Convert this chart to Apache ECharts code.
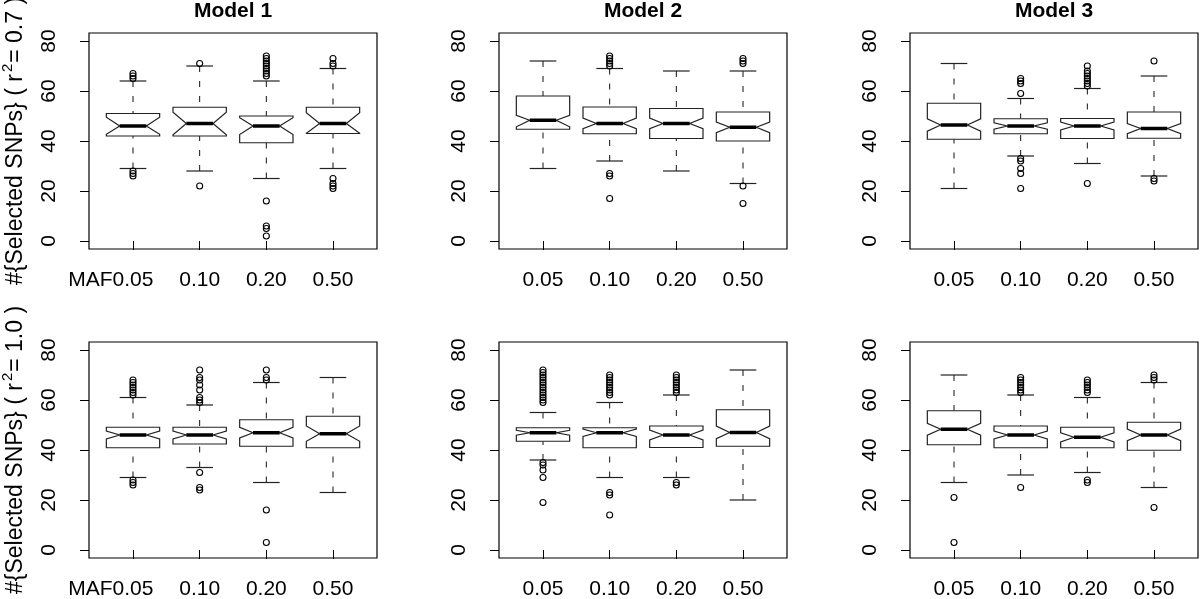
<!DOCTYPE html>
<html><head><meta charset="utf-8">
<script src="https://cdn.jsdelivr.net/npm/echarts@6/dist/echarts.min.js"></script>
<style>html,body{margin:0;padding:0;background:#fff}#c{width:1200px;height:599px}</style>
</head><body><div id="c"></div>
<script>
const categories = ['0.05', '0.10', '0.20', '0.50'];
const firstLabelPrefix = 'MAF';
const modelTitles = ['Model 1', 'Model 2', 'Model 3'];
const rowR2 = ['0.7', '1.0'];
const yTicks = [0, 20, 40, 60, 80];

// each box: [lowWhisker, q1, notchLo, median, notchHi, q3, highWhisker]
const m1_r07_stats = [
  [29, 42.0, 42.7, 46, 49.5, 51.0, 64],
  [28, 42.0, 42.5, 47, 51.5, 53.5, 70],
  [25, 39.3, 42.6, 46, 49.3, 50.0, 64],
  [29, 43.0, 43.1, 47, 51.3, 53.5, 69]
];
const m1_r07_out = [[26, 27, 28, 65, 66, 67], [22, 71], [2, 5, 6, 16, 66, 67, 68, 69, 70, 71, 72, 73, 74], [21, 22, 23, 25, 70, 71, 73]];

const m2_r07_stats = [
  [29, 44.7, 45.7, 48.3, 50.3, 58.0, 72],
  [32, 42.9, 44.9, 47, 49.2, 53.6, 69],
  [28, 41.0, 44.9, 47, 49.2, 53.0, 68],
  [23, 40.0, 43.3, 45.5, 47.6, 51.6, 68]
];
const m2_r07_out = [[], [17, 26, 27, 70, 71, 72, 73, 74], [], [15, 22, 71, 72, 73]];

const m3_r07_stats = [
  [21, 40.7, 43.9, 46.4, 48.9, 55.1, 71],
  [34, 42.9, 44.7, 46, 47.3, 48.9, 57],
  [31, 41.0, 44.4, 46, 47.6, 49.0, 61],
  [26, 41.1, 42.9, 45, 47.0, 51.6, 66]
];
const m3_r07_out = [[], [21, 27, 29, 32, 33, 59, 63, 64, 65], [23, 62, 63, 64, 65, 66, 67, 68, 70], [24, 25, 72]];

const m1_r10_stats = [
  [29, 40.9, 44.4, 46, 47.6, 49.1, 61],
  [33, 42.4, 44.4, 46, 47.6, 49.1, 58],
  [27, 41.5, 44.8, 46.9, 49.1, 52.1, 67],
  [23, 40.9, 43.5, 46.5, 49.6, 53.5, 69]
];
const m1_r10_out = [[26, 27, 28, 62, 63, 64, 65, 66, 67, 68], [24, 25, 31, 59, 60, 61, 64, 66, 68, 69, 72], [3, 16, 68, 69, 72], []];

const m2_r10_stats = [
  [36, 43.5, 45.9, 46.9, 47.9, 48.9, 55],
  [29, 40.9, 45.4, 46.9, 48.4, 48.9, 59],
  [29, 41.0, 44.0, 46, 48.0, 49.6, 62],
  [20, 41.5, 44.5, 47, 49.6, 56.1, 72]
];
const m2_r10_out = [[19, 29, 32, 34, 35, 59, 60, 61, 62, 63, 64, 65, 66, 67, 68, 69, 70, 71, 72], [14, 22, 23, 62, 63, 64, 65, 66, 67, 68, 69, 70], [26, 27, 63, 64, 65, 66, 67, 68, 69, 70], []];

const m3_r10_stats = [
  [27, 42.1, 45.9, 48.3, 50.7, 55.7, 70],
  [30, 40.9, 44.4, 46, 47.6, 49.6, 62],
  [31, 40.9, 43.2, 45.1, 46.9, 49.1, 61],
  [25, 39.9, 43.7, 46, 48.4, 51.1, 67]
];
const m3_r10_out = [[3, 21], [25, 63, 64, 65, 66, 67, 68, 69], [27, 28, 63, 64, 65, 66, 67, 68], [17, 68, 69, 70]];

const panelStats = [m1_r07_stats, m2_r07_stats, m3_r07_stats, m1_r10_stats, m2_r10_stats, m3_r10_stats];
const panelOut = [m1_r07_out, m2_r07_out, m3_r07_out, m1_r10_out, m2_r10_out, m3_r10_out];

const FONT = "'Liberation Sans', Arial, Helvetica, sans-serif";
const colLeft = [89, 499, 910];
const rowTop = [33, 342];
const PW = 288, PH = 216;
const LABEL_FS = 21;

function renderNotchBox(params, api) {
  const x = api.value(0);
  const lw = api.value(1), q1 = api.value(2), nlo = api.value(3), med = api.value(4),
        nhi = api.value(5), q3 = api.value(6), hw = api.value(7);
  const P = (dx, y) => api.coord([x + dx, y]);
  const W = 0.4, N = 0.2, C = 0.2;
  const stroke = '#222';
  const seg = (a, b, style) => ({ type: 'line', shape: { x1: a[0], y1: a[1], x2: b[0], y2: b[1] }, style: style });
  const dash = { stroke: '#111', lineWidth: 1, lineDash: [6, 9] };
  const solid = { stroke: stroke, lineWidth: 1.2 };
  return {
    type: 'group',
    children: [
      seg(P(0, hw), P(0, q3), dash),
      seg(P(0, lw), P(0, q1), dash),
      seg(P(-C, hw), P(C, hw), solid),
      seg(P(-C, lw), P(C, lw), solid),
      {
        type: 'polygon',
        shape: { points: [P(-W, q1), P(W, q1), P(W, nlo), P(N, med), P(W, nhi), P(W, q3), P(-W, q3), P(-W, nhi), P(-N, med), P(-W, nlo)] },
        style: { fill: '#fff', stroke: stroke, lineWidth: 1.2 }
      },
      seg(P(-N, med), P(N, med), { stroke: '#000', lineWidth: 3.5 })
    ]
  };
}

// measure half width of first category label, to place the prefix right before it
const mctx = document.createElement('canvas').getContext('2d');
mctx.font = LABEL_FS + 'px ' + FONT;
const halfFirst = mctx.measureText(categories[0]).width / 2;

const grids = [], xAxes = [], yAxes = [], series = [], titles = [], extraX = [];
for (let p = 0; p < 6; p++) {
  const r = Math.floor(p / 3), c = p % 3;
  grids.push({ left: colLeft[c], top: rowTop[r], width: PW, height: PH, show: true, borderColor: '#000', borderWidth: 1.2, backgroundColor: 'transparent', containLabel: false, outerBoundsMode: 'none' });
  const firstCol = c === 0;
  xAxes.push({
    type: 'value', gridIndex: p, min: 0.34, max: 4.66,
    axisLine: { show: false }, splitLine: { show: false },
    axisTick: { show: true, customValues: [1, 2, 3, 4], length: 9, lineStyle: { color: '#000', width: 1 } },
    axisLabel: {
      customValues: [1, 2, 3, 4], margin: 21, fontSize: LABEL_FS, color: '#000', fontFamily: FONT,
      showMinLabel: true, showMaxLabel: true,
      formatter: function (v) { return categories[Math.round(v) - 1]; }
    }
  });
  if (firstCol) {
    extraX.push({
      type: 'value', gridIndex: p, min: 0.34, max: 4.66, position: 'bottom',
      axisLine: { show: false }, splitLine: { show: false }, axisTick: { show: false },
      axisLabel: {
        customValues: [1], margin: 21, fontSize: LABEL_FS, color: '#000', fontFamily: FONT,
        align: 'right', padding: [0, halfFirst, 0, 0], showMinLabel: true,
        formatter: function () { return firstLabelPrefix; }
      }
    });
  }
  const yA = {
    type: 'value', gridIndex: p, min: -3.2, max: 83.2,
    axisLine: { show: false }, splitLine: { show: false },
    axisTick: { show: true, customValues: yTicks, length: 9, lineStyle: { color: '#000', width: 1 } },
    axisLabel: { customValues: yTicks, rotate: 90, margin: 29, fontSize: LABEL_FS, color: '#000', fontFamily: FONT, showMinLabel: true, showMaxLabel: true }
  };
  if (firstCol) {
    yA.name = '#{Selected SNPs} ( r{s|2}= ' + rowR2[r] + ' )';
    yA.nameLocation = 'middle';
    yA.nameRotate = 90;
    yA.nameGap = 58;
    yA.nameTextStyle = {
      fontSize: 23, color: '#000', fontFamily: FONT,
      rich: { s: { fontSize: 15, color: '#000', fontFamily: FONT, padding: [0, 1, 16, 2] } }
    };
  }
  yAxes.push(yA);

  const stats = panelStats[p];
  series.push({
    type: 'custom', xAxisIndex: p, yAxisIndex: p,
    renderItem: renderNotchBox,
    encode: { x: 0, y: [1, 2, 3, 4, 5, 6, 7] },
    data: stats.map((s, i) => [i + 1].concat(s)),
    silent: true, z: 2
  });
  const outs = [];
  panelOut[p].forEach((arr, i) => arr.forEach(v => outs.push([i + 1, v])));
  series.push({
    type: 'scatter', xAxisIndex: p, yAxisIndex: p,
    symbol: 'circle', symbolSize: 6,
    itemStyle: { color: 'rgba(0,0,0,0)', borderColor: '#000', borderWidth: 1.1, opacity: 1 },
    data: outs, silent: true, z: 3
  });
  if (r === 0) {
    titles.push({
      text: modelTitles[c], left: colLeft[c] + PW / 2, top: 1, padding: 0, textAlign: 'center',
      textStyle: { fontSize: 21, fontWeight: 'bold', color: '#000', fontFamily: FONT }
    });
  }
}

const chart = echarts.init(document.getElementById('c'), null, { renderer: 'canvas' });
chart.setOption({
  animation: false,
  backgroundColor: '#fff',
  title: titles,
  grid: grids,
  xAxis: xAxes.concat(extraX),
  yAxis: yAxes,
  series: series
});
</script></body></html>
